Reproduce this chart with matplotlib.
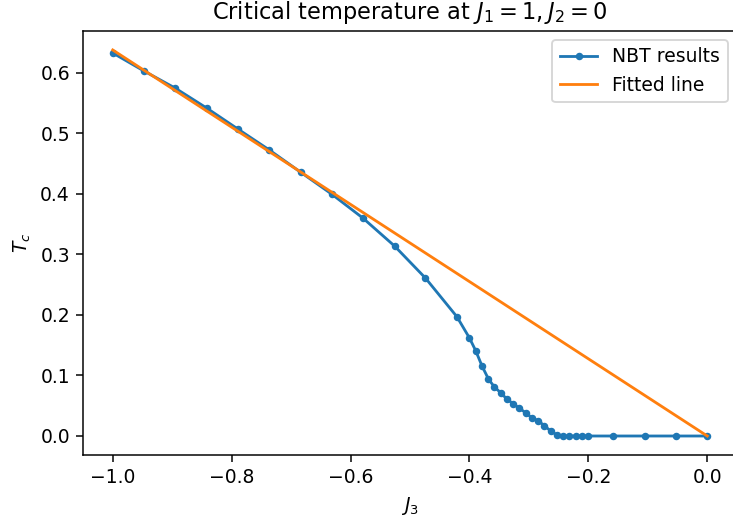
import matplotlib
matplotlib.use("Agg")
import matplotlib.pyplot as plt
import numpy as np

# NBT results
j3 = [-1.0, -0.947, -0.895, -0.842, -0.789, -0.737, -0.684, -0.632, -0.579, -0.526,
      -0.474, -0.421, -0.400, -0.3895, -0.379, -0.368, -0.358, -0.347, -0.337, -0.326,
      -0.316, -0.305, -0.295, -0.284, -0.274, -0.263, -0.253, -0.242, -0.232, -0.221,
      -0.211, -0.200, -0.158, -0.105, -0.053, 0.0]
tc = [0.633, 0.603, 0.575, 0.542, 0.507, 0.473, 0.436, 0.400, 0.360, 0.314,
      0.261, 0.197, 0.162, 0.141, 0.116, 0.094, 0.081, 0.071, 0.061, 0.053,
      0.046, 0.038, 0.030, 0.025, 0.017, 0.008, 0.002, 0.0, 0.0, 0.0,
      0.0, 0.0, 0.0, 0.0, 0.0, 0.0]

# Fitted line
fit_x = [-1.0, 0.0]
fit_y = [0.638, 0.0]

DPI = 135
W, H = 733, 523
fig = plt.figure(figsize=(W / DPI, H / DPI), dpi=DPI)
left, right, top, bottom = 83, 737, 30.6, 455.3
ax = fig.add_axes([left / W, 1 - bottom / H, (right - left) / W, (bottom - top) / H])

ax.plot(j3, tc, '.-', color='#1f77b4', label='NBT results')
ax.plot(fit_x, fit_y, color='#ff7f0e', label='Fitted line')

ax.set_xlim(-1.05, 0.05)
ax.set_ylim(-0.0319, 0.67)
ax.set_xticks([-1.0, -0.8, -0.6, -0.4, -0.2, 0.0])
ax.set_yticks([0.0, 0.1, 0.2, 0.3, 0.4, 0.5, 0.6])
ax.set_xlabel('$J_3$')
ax.set_ylabel('$T_c$')
ax.set_title('Critical temperature at $J_1=1, J_2=0$')
ax.legend(loc='upper right')

fig.savefig('out.png', dpi=DPI)
